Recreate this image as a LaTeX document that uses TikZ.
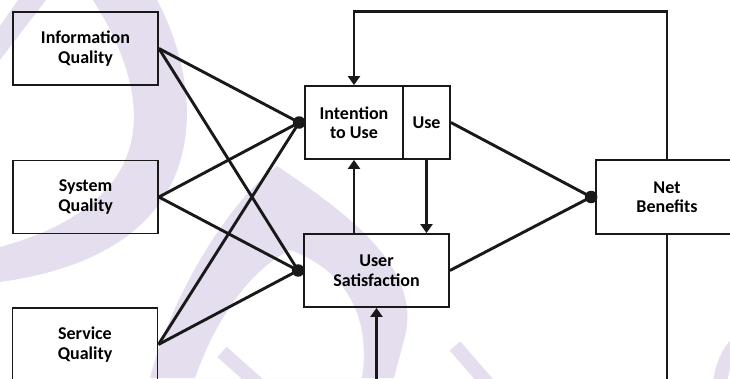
\documentclass[tikz,border=0pt]{standalone}
\usepackage{fontspec}
\setmainfont{Carlito}
\usetikzlibrary{arrows.meta}
\definecolor{wmark}{RGB}{228,222,238}
\definecolor{ink}{RGB}{25,25,25}
\begin{document}
\begin{tikzpicture}[x=1pt,y=-1pt,
  box/.style={draw=ink, line width=1.8pt, rectangle, inner sep=0pt, align=center,
    minimum height=73pt, font=\fontsize{18}{19.5}\selectfont\bfseries},
  link/.style={draw=ink, line width=2.9pt},
  arr/.style={link, -{Triangle[length=9pt,width=12pt]}},
  hub/.style={circle, fill=ink, inner sep=0pt, minimum size=12.5pt}]
\useasboundingbox (0,0) rectangle (730,378);
\clip (0,0) rectangle (730,378);

% faint background watermark
\begin{scope}[fill=wmark]
  \fill (18,0) -- (46,0) -- (0,60) -- (0,26) -- cycle;
  \fill (93,0) .. controls (150,90) and (170,200) .. (0,247) -- (0,282)
        .. controls (230,250) and (200,80) .. (157,0) -- cycle;
  \fill[even odd rule]
        (277,166) .. controls (345,212) and (425,268) .. (404,340) -- (394,378)
        -- (150,378) .. controls (170,300) and (225,205) .. (277,166) -- cycle
        (290,250) .. controls (340,268) and (372,310) .. (362,378)
        -- (195,378) .. controls (215,320) and (250,270) .. (290,250) -- cycle;
  \draw[wmark, line width=14pt] (222,352) -- (258,384);
  \draw[wmark, line width=14pt] (455,346) -- (488,384);
  \draw[wmark, line width=14pt] (720,384) .. controls (722,365) and (728,352) .. (740,340);
\end{scope}

% constructs
\node[box, minimum width=145pt] (info) at (85.5,48.5) {Information\\Quality};
\node[box, minimum width=145pt] (sys)  at (85.5,197)  {System\\Quality};
\node[box, minimum width=145pt] (serv) at (85,344.5)  {Service\\Quality};
\node[box, minimum width=98pt]  (intent) at (354,122.5) {Intention\\to Use};
\node[box, minimum width=47pt]  (use)  at (426.5,122.5) {Use};
\node[box, minimum width=145pt] (us)   at (376.5,270.5) {User\\Satisfaction};
\node[box, minimum width=142pt, minimum height=74pt] (net) at (667,197) {Net\\Benefits};

% junction dots
\node[hub] (hI) at ([xshift=-5pt]intent.west) {};
\node[hub] (hU) at ([xshift=-5pt]us.west) {};
\node[hub] (hN) at ([xshift=-4pt]net.west) {};

% quality dimensions into intention/use and satisfaction
\foreach \src in {info, sys, serv}{
  \draw[link] (\src.east) -- (hI.center);
  \draw[link] (\src.east) -- (hU.center);
}
\draw[link] (use.east) -- (hN.center);
\draw[link] (us.east) -- (hN.center);

% vertical links between intention/use and satisfaction
\draw[arr] (intent.south |- us.north) -- (intent.south);
\draw[arr] (use.south) -- (use.south |- us.north);

% feedback loop from net benefits
\draw[arr] (net.north) -- ++(0,-148) -| (intent.north);

% links leaving the frame
\coordinate (below) at (376.5,392);
\coordinate (out) at (667,392);
\draw[arr] (below) -- (us.south);
\draw[link] (net.south) -- (out);
\end{tikzpicture}
\end{document}
